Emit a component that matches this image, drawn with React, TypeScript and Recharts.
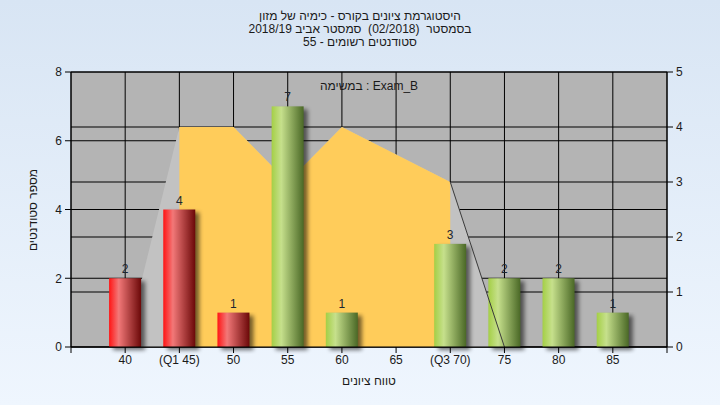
import {
  Area,
  Bar,
  CartesianGrid,
  ComposedChart,
  LabelList,
  Line,
  XAxis,
  YAxis,
} from "recharts";

const TITLE_LINES = [
  "היסטוגרמת ציונים בקורס - כימיה של מזון",
  "בסמסטר  (02/2018)  סמסטר אביב 2018/19",
  "סטודנטים רשומים - 55",
];
const SUBTITLE = "במשימה : Exam_B";
const X_LABEL = "טווח ציונים";
const Y_LABEL = "מספר סטודנטים";

const grades = [40, 45, 50, 55, 60, 65, 70, 75, 80, 85];
const counts = [2, 4, 1, 7, 1, 0, 3, 2, 2, 1];
const tones = ["red", "red", "red", "green", "green", "green", "green", "green", "green", "green"];
// distribution shape, read against the right axis
const curve = [0, 4, 4, 3, 4, 3.5, 3, 0, null, null];
const Q1 = 45;
const Q3 = 70;

const xTicks = [35, 40, 45, 50, 55, 60, 65, 70, 75, 80, 85, 90];
const xTickLabels = ["", "40", "(Q1 45)", "50", "55", "60", "65", "(Q3 70)", "75", "80", "85", ""];
const leftTicks = [0, 2, 4, 6, 8];
const rightTicks = [0, 1, 2, 3, 4, 5];

const data = grades.map((grade, i) => ({
  grade,
  count: counts[i],
  label: counts[i] > 0 ? counts[i] : null,
  tone: tones[i],
  curve: curve[i],
  iqr: grade >= Q1 && grade <= Q3 ? curve[i] : null,
  tail: grade >= Q3 && curve[i] != null ? curve[i] : null,
}));

const FONT = '"Liberation Sans", "DejaVu Sans", Arial, sans-serif';
const TEXT = "#1a1a1a";

function CylinderBar(props: any) {
  const { x, y, width, height, payload } = props;
  if (!height || height <= 0) return null;
  const fill = payload?.tone === "red" ? "url(#gradRed)" : "url(#gradGreen)";
  return (
    <g>
      <rect
        x={x + 4}
        y={y + 3}
        width={width}
        height={height}
        fill="#000"
        opacity={0.55}
        filter="url(#barShadow)"
      />
      <rect x={x} y={y} width={width} height={height} fill={fill} />
    </g>
  );
}

export default function App() {
  const tick = { fill: TEXT, fontSize: 12, fontFamily: FONT };
  return (
    <div
      style={{
        position: "absolute",
        left: 0,
        top: 0,
        width: 720,
        height: 405,
        background: "linear-gradient(#d8e5f4, #eff6fe)",
        fontFamily: FONT,
        color: TEXT,
      }}
    >
      <svg width={0} height={0} style={{ position: "absolute" }}>
        <defs>
          <linearGradient id="gradRed" x1="0" y1="0" x2="1" y2="0">
            <stop offset="0%" stopColor="#ff1414" />
            <stop offset="30%" stopColor="#f27878" />
            <stop offset="100%" stopColor="#6b0808" />
          </linearGradient>
          <linearGradient id="gradGreen" x1="0" y1="0" x2="1" y2="0">
            <stop offset="0%" stopColor="#a4cf46" />
            <stop offset="30%" stopColor="#c6e08c" />
            <stop offset="100%" stopColor="#4a6826" />
          </linearGradient>
          <filter id="barShadow" x="-30%" y="-10%" width="160%" height="120%">
            <feGaussianBlur stdDeviation="2" />
          </filter>
        </defs>
      </svg>

      <ComposedChart
        width={720}
        height={405}
        data={data}
        margin={{ top: 72, right: 13, bottom: 28, left: 31 }}
      >
        <CartesianGrid yAxisId="left" fill="#b4b4b4" stroke="#000" strokeOpacity={1} />
        <CartesianGrid yAxisId="right" vertical={false} stroke="#000" strokeOpacity={1} />
        <XAxis
          dataKey="grade"
          type="number"
          domain={[35, 90]}
          ticks={xTicks}
          interval={0}
          height={30}
          tickSize={6}
          tickMargin={2}
          stroke="#000"
          tick={tick}
          tickFormatter={(v: number) => xTickLabels[xTicks.indexOf(v)] ?? ""}
        />
        <YAxis
          yAxisId="left"
          domain={[0, 8]}
          ticks={leftTicks}
          interval={0}
          width={40}
          tickSize={6}
          tickMargin={3}
          stroke="#000"
          tick={tick}
        />
        <YAxis
          yAxisId="right"
          orientation="right"
          domain={[0, 5]}
          ticks={rightTicks}
          interval={0}
          width={40}
          tickSize={6}
          tickMargin={3}
          stroke="#000"
          tick={tick}
        />
        <Area
          yAxisId="right"
          type="linear"
          dataKey="curve"
          fill="#c2c2c2"
          fillOpacity={1}
          stroke="none"
          isAnimationActive={false}
        />
        <Area
          yAxisId="right"
          type="linear"
          dataKey="iqr"
          fill="#ffcc5a"
          fillOpacity={1}
          stroke="none"
          isAnimationActive={false}
        />
        <Line
          yAxisId="right"
          type="linear"
          dataKey="tail"
          stroke="#3a3a3a"
          strokeWidth={1}
          dot={false}
          isAnimationActive={false}
        />
        <Bar
          yAxisId="left"
          dataKey="count"
          barSize={32}
          shape={CylinderBar}
          isAnimationActive={false}
        >
          <LabelList
            dataKey="label"
            position="top"
            offset={5}
            fill="#1c2630"
            fontSize={12}
            fontFamily={FONT}
          />
        </Bar>
      </ComposedChart>

      <div
        style={{
          position: "absolute",
          top: 10,
          left: 0,
          width: 720,
          textAlign: "center",
          fontSize: 12,
          lineHeight: "13px",
          direction: "rtl",
        }}
      >
        {TITLE_LINES.map((line) => (
          <div key={line} style={{ whiteSpace: "pre" }}>
            {line}
          </div>
        ))}
      </div>
      <div
        style={{
          position: "absolute",
          top: 79,
          left: 71,
          width: 596,
          textAlign: "center",
          fontSize: 12,
          lineHeight: "14px",
        }}
      >
        {SUBTITLE}
      </div>
      <div
        style={{
          position: "absolute",
          top: 374,
          left: 71,
          width: 596,
          textAlign: "center",
          fontSize: 12,
          lineHeight: "14px",
        }}
      >
        {X_LABEL}
      </div>
      <div
        style={{
          position: "absolute",
          left: 33,
          top: 210,
          transform: "translate(-50%, -50%) rotate(-90deg)",
          whiteSpace: "nowrap",
          fontSize: 12,
          lineHeight: "14px",
        }}
      >
        {Y_LABEL}
      </div>
    </div>
  );
}
